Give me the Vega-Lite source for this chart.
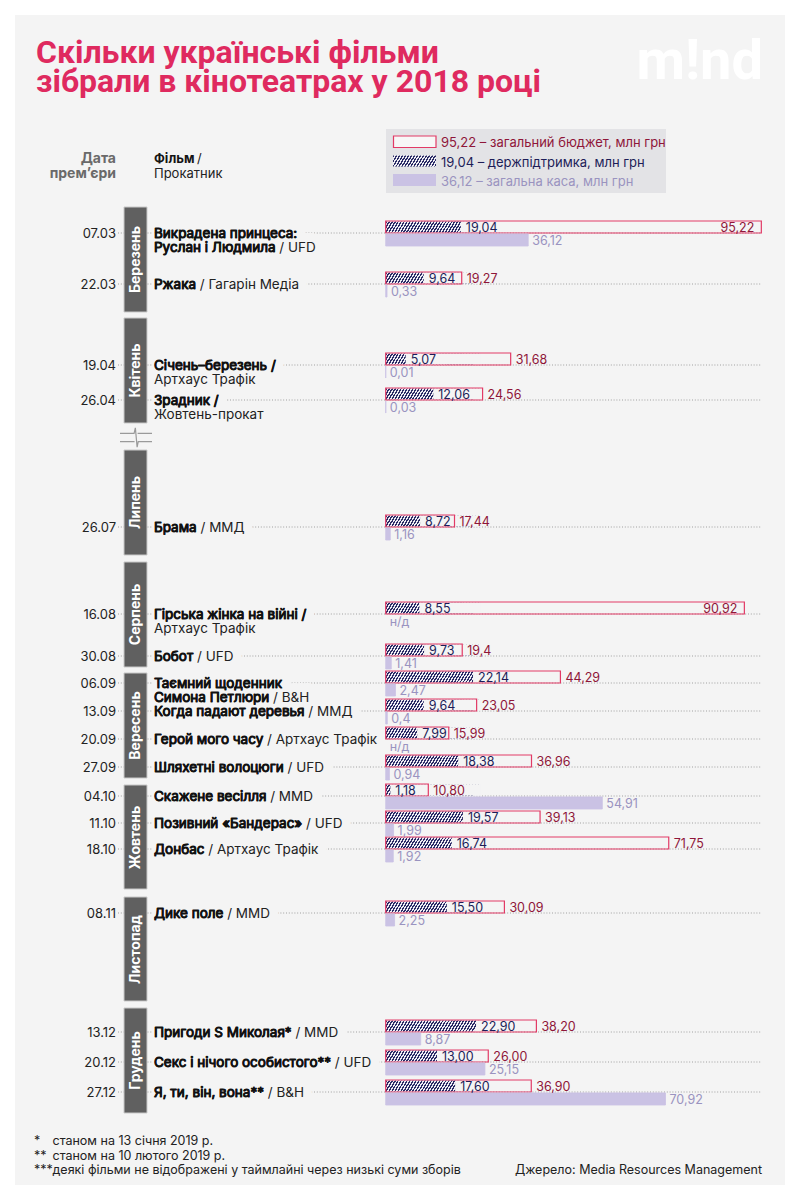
{
"$schema":"https://vega.github.io/schema/vega-lite/v6.json",
"width":800,"height":1200,
"autosize":{"type":"fit","contains":"padding"},
"padding":15,
"background":"#ffffff",
"view":{"fill":"#f4f4f4","stroke":null},
"datasets":{
"films":[
{"date":"2018-03-07","film":"Викрадена принцеса:\nРуслан і Людмила","dist":"/ UFD","budget":"95,22","support":"19,04","box":"36,12"},
{"date":"2018-03-22","film":"Ржака","dist":"/ Гагарін Медіа","budget":"19,27","support":"9,64","box":"0,33"},
{"date":"2018-04-19","film":"Січень–березень /","dist":"\nАртхаус Трафік","budget":"31,68","support":"5,07","box":"0,01"},
{"date":"2018-04-26","film":"Зрадник /","dist":"\nЖовтень-прокат","budget":"24,56","support":"12,06","box":"0,03"},
{"date":"2018-07-26","film":"Брама","dist":"/ ММД","budget":"17,44","support":"8,72","box":"1,16"},
{"date":"2018-08-16","film":"Гірська жінка на війні /","dist":"\nАртхаус Трафік","budget":"90,92","support":"8,55","box":"н/д"},
{"date":"2018-08-30","film":"Бобот","dist":"/ UFD","budget":"19,4","support":"9,73","box":"1,41"},
{"date":"2018-09-06","film":"Таємний щоденник\nСимона Петлюри","dist":"/ B&H","budget":"44,29","support":"22,14","box":"2,47"},
{"date":"2018-09-13","film":"Когда падают деревья","dist":"/ ММД","budget":"23,05","support":"9,64","box":"0,4"},
{"date":"2018-09-20","film":"Герой мого часу","dist":"/ Артхаус Трафік","budget":"15,99","support":"7,99","box":"н/д"},
{"date":"2018-09-27","film":"Шляхетні волоцюги","dist":"/ UFD","budget":"36,96","support":"18,38","box":"0,94"},
{"date":"2018-10-04","film":"Скажене весілля","dist":"/ MMD","budget":"10,80","support":"1,18","box":"54,91"},
{"date":"2018-10-11","film":"Позивний «Бандерас»","dist":"/ UFD","budget":"39,13","support":"19,57","box":"1,99"},
{"date":"2018-10-18","film":"Донбас","dist":"/ Артхаус Трафік","budget":"71,75","support":"16,74","box":"1,92"},
{"date":"2018-11-08","film":"Дике поле","dist":"/ MMD","budget":"30,09","support":"15,50","box":"2,25"},
{"date":"2018-12-13","film":"Пригоди S Миколая*","dist":"/ MMD","budget":"38,20","support":"22,90","box":"8,87"},
{"date":"2018-12-20","film":"Секс і нічого особистого**","dist":"/ UFD","budget":"26,00","support":"13,00","box":"25,15"},
{"date":"2018-12-27","film":"Я, ти, він, вона**","dist":"/ B&H","budget":"36,90","support":"17,60","box":"70,92"}
],
"months":[
{"month":"Березень","date":"2018-03-01","end":"2018-03-31"},
{"month":"Квітень","date":"2018-04-01","end":"2018-04-30"},
{"month":"Липень","date":"2018-07-01","end":"2018-07-31"},
{"month":"Серпень","date":"2018-08-01","end":"2018-08-31"},
{"month":"Вересень","date":"2018-09-01","end":"2018-09-30"},
{"month":"Жовтень","date":"2018-10-01","end":"2018-10-31"},
{"month":"Листопад","date":"2018-11-01","end":"2018-11-30"},
{"month":"Грудень","date":"2018-12-01","end":"2018-12-31"}
]
},
"resolve":{"scale":{"x":"independent","y":"independent"}},
"layer":[
{
"data":{"values":[{}]},
"layer":[
{"mark":{"type":"text","text":["Скільки українські фільми","зібрали в кінотеатрах у 2018 році"],"font":"Roboto","fontWeight":"bold","fontSize":32,"lineHeight":29,"color":"#df2a5f","align":"left","baseline":"alphabetic"},
"encoding":{"x":{"datum":36,"scale":{"domain":[15,785],"nice":false,"zero":false},"axis":null},"y":{"datum":63,"scale":{"domain":[15,1185],"reverse":true,"nice":false,"zero":false},"axis":null}}},
{"mark":{"type":"text","text":"m!nd","font":"Roboto","fontWeight":"bold","fontSize":56,"color":"#ffffff","align":"right","baseline":"alphabetic"},
"encoding":{"x":{"datum":763,"scale":{"domain":[15,785],"nice":false,"zero":false},"axis":null},"y":{"datum":79,"scale":{"domain":[15,1185],"reverse":true,"nice":false,"zero":false},"axis":null}}},
{"mark":{"type":"rect","fill":"#e3e3e6"},
"encoding":{"x":{"datum":386,"scale":{"domain":[15,785],"nice":false,"zero":false},"axis":null},"x2":{"datum":666},"y":{"datum":129,"scale":{"domain":[15,1185],"reverse":true,"nice":false,"zero":false},"axis":null},"y2":{"datum":193}}},
{"mark":{"type":"rect","fill":"#f7f7f7","stroke":"#e23a66","strokeWidth":1.2},
"encoding":{"x":{"datum":393.5,"scale":{"domain":[15,785],"nice":false,"zero":false},"axis":null},"x2":{"datum":436},"y":{"datum":136,"scale":{"domain":[15,1185],"reverse":true,"nice":false,"zero":false},"axis":null},"y2":{"datum":147.5}}},
{"mark":{"type":"rect","fill":{"gradient":"linear","x1":0,"y1":0,"x2":1,"y2":0.0697,"stops":[
{"offset":0,"color":"#2b2b66"},{"offset":0.015625,"color":"#2b2b66"},{"offset":0.015625,"color":"#eeeef4"},{"offset":0.03125,"color":"#eeeef4"},
{"offset":0.03125,"color":"#2b2b66"},{"offset":0.046875,"color":"#2b2b66"},{"offset":0.046875,"color":"#eeeef4"},{"offset":0.0625,"color":"#eeeef4"},
{"offset":0.0625,"color":"#2b2b66"},{"offset":0.078125,"color":"#2b2b66"},{"offset":0.078125,"color":"#eeeef4"},{"offset":0.09375,"color":"#eeeef4"},
{"offset":0.09375,"color":"#2b2b66"},{"offset":0.109375,"color":"#2b2b66"},{"offset":0.109375,"color":"#eeeef4"},{"offset":0.125,"color":"#eeeef4"},
{"offset":0.125,"color":"#2b2b66"},{"offset":0.140625,"color":"#2b2b66"},{"offset":0.140625,"color":"#eeeef4"},{"offset":0.15625,"color":"#eeeef4"},
{"offset":0.15625,"color":"#2b2b66"},{"offset":0.171875,"color":"#2b2b66"},{"offset":0.171875,"color":"#eeeef4"},{"offset":0.1875,"color":"#eeeef4"},
{"offset":0.1875,"color":"#2b2b66"},{"offset":0.203125,"color":"#2b2b66"},{"offset":0.203125,"color":"#eeeef4"},{"offset":0.21875,"color":"#eeeef4"},
{"offset":0.21875,"color":"#2b2b66"},{"offset":0.234375,"color":"#2b2b66"},{"offset":0.234375,"color":"#eeeef4"},{"offset":0.25,"color":"#eeeef4"},
{"offset":0.25,"color":"#2b2b66"},{"offset":0.265625,"color":"#2b2b66"},{"offset":0.265625,"color":"#eeeef4"},{"offset":0.28125,"color":"#eeeef4"},
{"offset":0.28125,"color":"#2b2b66"},{"offset":0.296875,"color":"#2b2b66"},{"offset":0.296875,"color":"#eeeef4"},{"offset":0.3125,"color":"#eeeef4"},
{"offset":0.3125,"color":"#2b2b66"},{"offset":0.328125,"color":"#2b2b66"},{"offset":0.328125,"color":"#eeeef4"},{"offset":0.34375,"color":"#eeeef4"},
{"offset":0.34375,"color":"#2b2b66"},{"offset":0.359375,"color":"#2b2b66"},{"offset":0.359375,"color":"#eeeef4"},{"offset":0.375,"color":"#eeeef4"},
{"offset":0.375,"color":"#2b2b66"},{"offset":0.390625,"color":"#2b2b66"},{"offset":0.390625,"color":"#eeeef4"},{"offset":0.40625,"color":"#eeeef4"},
{"offset":0.40625,"color":"#2b2b66"},{"offset":0.421875,"color":"#2b2b66"},{"offset":0.421875,"color":"#eeeef4"},{"offset":0.4375,"color":"#eeeef4"},
{"offset":0.4375,"color":"#2b2b66"},{"offset":0.453125,"color":"#2b2b66"},{"offset":0.453125,"color":"#eeeef4"},{"offset":0.46875,"color":"#eeeef4"},
{"offset":0.46875,"color":"#2b2b66"},{"offset":0.484375,"color":"#2b2b66"},{"offset":0.484375,"color":"#eeeef4"},{"offset":0.5,"color":"#eeeef4"},
{"offset":0.5,"color":"#2b2b66"},{"offset":0.515625,"color":"#2b2b66"},{"offset":0.515625,"color":"#eeeef4"},{"offset":0.53125,"color":"#eeeef4"},
{"offset":0.53125,"color":"#2b2b66"},{"offset":0.546875,"color":"#2b2b66"},{"offset":0.546875,"color":"#eeeef4"},{"offset":0.5625,"color":"#eeeef4"},
{"offset":0.5625,"color":"#2b2b66"},{"offset":0.578125,"color":"#2b2b66"},{"offset":0.578125,"color":"#eeeef4"},{"offset":0.59375,"color":"#eeeef4"},
{"offset":0.59375,"color":"#2b2b66"},{"offset":0.609375,"color":"#2b2b66"},{"offset":0.609375,"color":"#eeeef4"},{"offset":0.625,"color":"#eeeef4"},
{"offset":0.625,"color":"#2b2b66"},{"offset":0.640625,"color":"#2b2b66"},{"offset":0.640625,"color":"#eeeef4"},{"offset":0.65625,"color":"#eeeef4"},
{"offset":0.65625,"color":"#2b2b66"},{"offset":0.671875,"color":"#2b2b66"},{"offset":0.671875,"color":"#eeeef4"},{"offset":0.6875,"color":"#eeeef4"},
{"offset":0.6875,"color":"#2b2b66"},{"offset":0.703125,"color":"#2b2b66"},{"offset":0.703125,"color":"#eeeef4"},{"offset":0.71875,"color":"#eeeef4"},
{"offset":0.71875,"color":"#2b2b66"},{"offset":0.734375,"color":"#2b2b66"},{"offset":0.734375,"color":"#eeeef4"},{"offset":0.75,"color":"#eeeef4"},
{"offset":0.75,"color":"#2b2b66"},{"offset":0.765625,"color":"#2b2b66"},{"offset":0.765625,"color":"#eeeef4"},{"offset":0.78125,"color":"#eeeef4"},
{"offset":0.78125,"color":"#2b2b66"},{"offset":0.796875,"color":"#2b2b66"},{"offset":0.796875,"color":"#eeeef4"},{"offset":0.8125,"color":"#eeeef4"},
{"offset":0.8125,"color":"#2b2b66"},{"offset":0.828125,"color":"#2b2b66"},{"offset":0.828125,"color":"#eeeef4"},{"offset":0.84375,"color":"#eeeef4"},
{"offset":0.84375,"color":"#2b2b66"},{"offset":0.859375,"color":"#2b2b66"},{"offset":0.859375,"color":"#eeeef4"},{"offset":0.875,"color":"#eeeef4"},
{"offset":0.875,"color":"#2b2b66"},{"offset":0.890625,"color":"#2b2b66"},{"offset":0.890625,"color":"#eeeef4"},{"offset":0.90625,"color":"#eeeef4"},
{"offset":0.90625,"color":"#2b2b66"},{"offset":0.921875,"color":"#2b2b66"},{"offset":0.921875,"color":"#eeeef4"},{"offset":0.9375,"color":"#eeeef4"},
{"offset":0.9375,"color":"#2b2b66"},{"offset":0.953125,"color":"#2b2b66"},{"offset":0.953125,"color":"#eeeef4"},{"offset":0.96875,"color":"#eeeef4"},
{"offset":0.96875,"color":"#2b2b66"},{"offset":0.984375,"color":"#2b2b66"},{"offset":0.984375,"color":"#eeeef4"},{"offset":1,"color":"#eeeef4"}
]}},
"encoding":{"x":{"datum":393,"scale":{"domain":[15,785],"nice":false,"zero":false},"axis":null},"x2":{"datum":487.7},"y":{"datum":155.5,"scale":{"domain":[15,1185],"reverse":true,"nice":false,"zero":false},"axis":null},"y2":{"datum":166.5}}},
{"mark":{"type":"rect","fill":"#e3e3e6"},
"encoding":{"x":{"datum":436,"scale":{"domain":[15,785],"nice":false,"zero":false},"axis":null},"x2":{"datum":490},"y":{"datum":154,"scale":{"domain":[15,1185],"reverse":true,"nice":false,"zero":false},"axis":null},"y2":{"datum":168}}},
{"mark":{"type":"rect","fill":"#cac2e4"},
"encoding":{"x":{"datum":393,"scale":{"domain":[15,785],"nice":false,"zero":false},"axis":null},"x2":{"datum":436},"y":{"datum":174,"scale":{"domain":[15,1185],"reverse":true,"nice":false,"zero":false},"axis":null},"y2":{"datum":186}}},
{"mark":{"type":"text","text":"95,22 – загальний бюджет, млн грн","font":"Inter","fontSize":13,"color":"#8f1639","align":"left","baseline":"alphabetic"},
"encoding":{"x":{"datum":441,"scale":{"domain":[15,785],"nice":false,"zero":false},"axis":null},"y":{"datum":147.3,"scale":{"domain":[15,1185],"reverse":true,"nice":false,"zero":false},"axis":null}}},
{"mark":{"type":"text","text":"19,04 – держпідтримка, млн грн","font":"Inter","fontSize":13,"color":"#1d1d58","align":"left","baseline":"alphabetic"},
"encoding":{"x":{"datum":441,"scale":{"domain":[15,785],"nice":false,"zero":false},"axis":null},"y":{"datum":166.5,"scale":{"domain":[15,1185],"reverse":true,"nice":false,"zero":false},"axis":null}}},
{"mark":{"type":"text","text":"36,12 – загальна каса, млн грн","font":"Inter","fontSize":13,"color":"#9a93c0","align":"left","baseline":"alphabetic"},
"encoding":{"x":{"datum":441,"scale":{"domain":[15,785],"nice":false,"zero":false},"axis":null},"y":{"datum":185.5,"scale":{"domain":[15,1185],"reverse":true,"nice":false,"zero":false},"axis":null}}},
{"mark":{"type":"text","text":["Дата","прем’єри"],"font":"Inter","fontWeight":"bold","fontSize":14,"lineHeight":15,"color":"#6a6a6a","align":"right","baseline":"alphabetic"},
"encoding":{"x":{"datum":116,"scale":{"domain":[15,785],"nice":false,"zero":false},"axis":null},"y":{"datum":163,"scale":{"domain":[15,1185],"reverse":true,"nice":false,"zero":false},"axis":null}}},
{"mark":{"type":"text","text":"Фільм","font":"Inter","fontWeight":"bold","fontSize":13,"color":"#141414","align":"left","baseline":"alphabetic"},
"encoding":{"x":{"datum":154,"scale":{"domain":[15,785],"nice":false,"zero":false},"axis":null},"y":{"datum":163,"scale":{"domain":[15,1185],"reverse":true,"nice":false,"zero":false},"axis":null}}},
{"mark":{"type":"text","text":"/","font":"Inter","fontSize":13,"color":"#222222","align":"left","baseline":"alphabetic"},
"encoding":{"x":{"datum":197,"scale":{"domain":[15,785],"nice":false,"zero":false},"axis":null},"y":{"datum":163,"scale":{"domain":[15,1185],"reverse":true,"nice":false,"zero":false},"axis":null}}},
{"mark":{"type":"text","text":"Прокатник","font":"Inter","fontSize":13,"color":"#222222","align":"left","baseline":"alphabetic"},
"encoding":{"x":{"datum":154,"scale":{"domain":[15,785],"nice":false,"zero":false},"axis":null},"y":{"datum":178,"scale":{"domain":[15,1185],"reverse":true,"nice":false,"zero":false},"axis":null}}},
{"mark":{"type":"point","shape":"M-1,-0.26L-0.12,-0.26L-0.04,-0.6L0.07,0.6L0.14,0.26L1,0.26M-1,0.26L-0.09,0.26M0.1,-0.26L1,-0.26","size":1024,"filled":false,"stroke":"#9a9a9a","strokeWidth":1.2,"opacity":1},
"encoding":{"x":{"datum":136,"scale":{"domain":[15,785],"nice":false,"zero":false},"axis":null},"y":{"datum":437.5,"scale":{"domain":[15,1185],"reverse":true,"nice":false,"zero":false},"axis":null}}},
{"mark":{"type":"text","text":["*","**","***"],"font":"Inter","fontSize":12.5,"lineHeight":14.5,"color":"#222222","align":"left","baseline":"alphabetic"},
"encoding":{"x":{"datum":34,"scale":{"domain":[15,785],"nice":false,"zero":false},"axis":null},"y":{"datum":1145,"scale":{"domain":[15,1185],"reverse":true,"nice":false,"zero":false},"axis":null}}},
{"mark":{"type":"text","text":["станом на 13 січня 2019 р.","станом на 10 лютого 2019 р.","деякі фільми не відображені у таймлайні через низькі суми зборів"],"font":"Inter","fontSize":12.5,"lineHeight":14.5,"color":"#222222","align":"left","baseline":"alphabetic"},
"encoding":{"x":{"datum":52.5,"scale":{"domain":[15,785],"nice":false,"zero":false},"axis":null},"y":{"datum":1145,"scale":{"domain":[15,1185],"reverse":true,"nice":false,"zero":false},"axis":null}}},
{"mark":{"type":"text","text":"Джерело: Media Resources Management","font":"Inter","fontSize":12.5,"color":"#222222","align":"right","baseline":"alphabetic"},
"encoding":{"x":{"datum":762,"scale":{"domain":[15,785],"nice":false,"zero":false},"axis":null},"y":{"datum":1174,"scale":{"domain":[15,1185],"reverse":true,"nice":false,"zero":false},"axis":null}}}
]
},
{
"encoding":{"y":{"field":"day","type":"quantitative","axis":null,"scale":{"nice":false,"zero":false,"domain":[60,66,81,90,91,109,116,120,182,207,212,213,228,242,243,244,249,256,263,270,273,274,277,284,291,304,305,312,334,335,347,354,361,365],"range":[192,218,269,297,303,350,385,408,435,512,540,547,599,641,652,658,668,696,724,752,763,770,781,808,834,874,882,898,986,993,1017,1047,1077,1098]}}},
"layer":[
{
"data":{"name":"films"},
"transform":[
{"calculate":"(time(toDate(datum.date)) - utc(2018,0,1))/86400000 + 1","as":"day"},
{"calculate":"datum.film + (indexof(datum.dist, '\\n') == 0 ? '' : ' ') + datum.dist","as":"label"}
],
"layer":[
{"mark":{"type":"rule","stroke":"#a0a0a0","strokeWidth":1,"strokeDash":[1,1.8]},
"encoding":{"x":{"datum":118,"scale":{"domain":[15,785],"nice":false,"zero":false},"axis":null},"x2":{"datum":762}}},
{"mark":{"type":"text","font":"Inter","fontSize":13.5,"lineBreak":"\n","lineHeight":14,"align":"left","baseline":"alphabetic","dy":4.5,"color":"#f4f4f4","stroke":"#f4f4f4","strokeWidth":18,"strokeJoin":"round"},
"encoding":{"x":{"datum":154,"scale":{"domain":[15,785],"nice":false,"zero":false},"axis":null},"text":{"field":"label"}}}
]
},
{
"data":{"name":"months"},
"transform":[
{"calculate":"(time(toDate(datum.date)) - utc(2018,0,1))/86400000 + 1","as":"day"},
{"calculate":"(time(toDate(datum.end)) - utc(2018,0,1))/86400000 + 1","as":"endDay"}
],
"layer":[
{"mark":{"type":"rect","fill":"#606060","stroke":"#c9c9c9","strokeWidth":1},
"encoding":{"x":{"datum":124,"scale":{"domain":[15,785],"nice":false,"zero":false},"axis":null},"x2":{"datum":147},"y2":{"field":"endDay"}}},
{"mark":{"type":"text","font":"Inter","fontWeight":"bold","fontSize":14,"angle":270,"align":"center","baseline":"middle","yOffset":52.5,"color":"#ffffff"},
"encoding":{"x":{"datum":135.5,"scale":{"domain":[15,785],"nice":false,"zero":false},"axis":null},"text":{"field":"month"}}}
]
},
{
"data":{"name":"films"},
"transform":[
{"calculate":"(time(toDate(datum.date)) - utc(2018,0,1))/86400000 + 1","as":"day"},
{"calculate":"datum.film + (indexof(datum.dist, '\\n') == 0 ? '' : ' ') + datum.dist","as":"label"},
{"calculate":"utcFormat(toDate(datum.date), '%d.%m')","as":"dateLabel"}
],
"layer":[
{"mark":{"type":"rule","stroke":"#a0a0a0","strokeWidth":1,"strokeDash":[1,1.8]},
"encoding":{"x":{"datum":147.5,"scale":{"domain":[15,785],"nice":false,"zero":false},"axis":null},"x2":{"datum":153}}},
{"mark":{"type":"text","font":"Inter","fontSize":13,"align":"right","baseline":"alphabetic","dy":4.5,"color":"#222222"},
"encoding":{"x":{"datum":116,"scale":{"domain":[15,785],"nice":false,"zero":false},"axis":null},"text":{"field":"dateLabel"}}},
{"mark":{"type":"text","font":"Inter","fontSize":13.5,"lineBreak":"\n","lineHeight":14,"align":"left","baseline":"alphabetic","dy":4.5,"color":"#222222"},
"encoding":{"x":{"datum":154,"scale":{"domain":[15,785],"nice":false,"zero":false},"axis":null},"text":{"field":"label"}}},
{"mark":{"type":"text","font":"Inter","fontSize":13.5,"lineBreak":"\n","lineHeight":14,"align":"left","baseline":"alphabetic","dy":4.5,"color":"#111111","stroke":"#111111","strokeWidth":0.85,"strokeJoin":"round"},
"encoding":{"x":{"datum":154,"scale":{"domain":[15,785],"nice":false,"zero":false},"axis":null},"text":{"field":"film"}}}
]
}
]
},
{
"data":{"name":"films"},
"transform":[
{"calculate":"(time(toDate(datum.date)) - utc(2018,0,1))/86400000 + 1","as":"day"},
{"calculate":"toNumber(replace(datum.budget, ',', '.'))","as":"b"},
{"calculate":"toNumber(replace(datum.support, ',', '.'))","as":"s"},
{"calculate":"toNumber(replace(datum.box, ',', '.'))","as":"k"}
],
"encoding":{"y":{"field":"day","type":"quantitative","axis":null,"scale":{"nice":false,"zero":false,"domain":[60,66,81,90,91,109,116,120,182,207,212,213,228,242,243,244,249,256,263,270,273,274,277,284,291,304,305,312,334,335,347,354,361,365],"range":[192,218,269,297,303,350,385,408,435,512,540,547,599,641,652,658,668,696,724,752,763,770,781,808,834,874,882,898,986,993,1017,1047,1077,1098]}}},
"layer":[
{"mark":{"type":"rect","yOffset":-11.5,"y2Offset":-0.5,"fill":{"gradient":"linear","x1":0,"y1":0,"x2":1,"y2":0.0697,"stops":[
{"offset":0,"color":"#2b2b66"},{"offset":0.015625,"color":"#2b2b66"},{"offset":0.015625,"color":"#eeeef4"},{"offset":0.03125,"color":"#eeeef4"},
{"offset":0.03125,"color":"#2b2b66"},{"offset":0.046875,"color":"#2b2b66"},{"offset":0.046875,"color":"#eeeef4"},{"offset":0.0625,"color":"#eeeef4"},
{"offset":0.0625,"color":"#2b2b66"},{"offset":0.078125,"color":"#2b2b66"},{"offset":0.078125,"color":"#eeeef4"},{"offset":0.09375,"color":"#eeeef4"},
{"offset":0.09375,"color":"#2b2b66"},{"offset":0.109375,"color":"#2b2b66"},{"offset":0.109375,"color":"#eeeef4"},{"offset":0.125,"color":"#eeeef4"},
{"offset":0.125,"color":"#2b2b66"},{"offset":0.140625,"color":"#2b2b66"},{"offset":0.140625,"color":"#eeeef4"},{"offset":0.15625,"color":"#eeeef4"},
{"offset":0.15625,"color":"#2b2b66"},{"offset":0.171875,"color":"#2b2b66"},{"offset":0.171875,"color":"#eeeef4"},{"offset":0.1875,"color":"#eeeef4"},
{"offset":0.1875,"color":"#2b2b66"},{"offset":0.203125,"color":"#2b2b66"},{"offset":0.203125,"color":"#eeeef4"},{"offset":0.21875,"color":"#eeeef4"},
{"offset":0.21875,"color":"#2b2b66"},{"offset":0.234375,"color":"#2b2b66"},{"offset":0.234375,"color":"#eeeef4"},{"offset":0.25,"color":"#eeeef4"},
{"offset":0.25,"color":"#2b2b66"},{"offset":0.265625,"color":"#2b2b66"},{"offset":0.265625,"color":"#eeeef4"},{"offset":0.28125,"color":"#eeeef4"},
{"offset":0.28125,"color":"#2b2b66"},{"offset":0.296875,"color":"#2b2b66"},{"offset":0.296875,"color":"#eeeef4"},{"offset":0.3125,"color":"#eeeef4"},
{"offset":0.3125,"color":"#2b2b66"},{"offset":0.328125,"color":"#2b2b66"},{"offset":0.328125,"color":"#eeeef4"},{"offset":0.34375,"color":"#eeeef4"},
{"offset":0.34375,"color":"#2b2b66"},{"offset":0.359375,"color":"#2b2b66"},{"offset":0.359375,"color":"#eeeef4"},{"offset":0.375,"color":"#eeeef4"},
{"offset":0.375,"color":"#2b2b66"},{"offset":0.390625,"color":"#2b2b66"},{"offset":0.390625,"color":"#eeeef4"},{"offset":0.40625,"color":"#eeeef4"},
{"offset":0.40625,"color":"#2b2b66"},{"offset":0.421875,"color":"#2b2b66"},{"offset":0.421875,"color":"#eeeef4"},{"offset":0.4375,"color":"#eeeef4"},
{"offset":0.4375,"color":"#2b2b66"},{"offset":0.453125,"color":"#2b2b66"},{"offset":0.453125,"color":"#eeeef4"},{"offset":0.46875,"color":"#eeeef4"},
{"offset":0.46875,"color":"#2b2b66"},{"offset":0.484375,"color":"#2b2b66"},{"offset":0.484375,"color":"#eeeef4"},{"offset":0.5,"color":"#eeeef4"},
{"offset":0.5,"color":"#2b2b66"},{"offset":0.515625,"color":"#2b2b66"},{"offset":0.515625,"color":"#eeeef4"},{"offset":0.53125,"color":"#eeeef4"},
{"offset":0.53125,"color":"#2b2b66"},{"offset":0.546875,"color":"#2b2b66"},{"offset":0.546875,"color":"#eeeef4"},{"offset":0.5625,"color":"#eeeef4"},
{"offset":0.5625,"color":"#2b2b66"},{"offset":0.578125,"color":"#2b2b66"},{"offset":0.578125,"color":"#eeeef4"},{"offset":0.59375,"color":"#eeeef4"},
{"offset":0.59375,"color":"#2b2b66"},{"offset":0.609375,"color":"#2b2b66"},{"offset":0.609375,"color":"#eeeef4"},{"offset":0.625,"color":"#eeeef4"},
{"offset":0.625,"color":"#2b2b66"},{"offset":0.640625,"color":"#2b2b66"},{"offset":0.640625,"color":"#eeeef4"},{"offset":0.65625,"color":"#eeeef4"},
{"offset":0.65625,"color":"#2b2b66"},{"offset":0.671875,"color":"#2b2b66"},{"offset":0.671875,"color":"#eeeef4"},{"offset":0.6875,"color":"#eeeef4"},
{"offset":0.6875,"color":"#2b2b66"},{"offset":0.703125,"color":"#2b2b66"},{"offset":0.703125,"color":"#eeeef4"},{"offset":0.71875,"color":"#eeeef4"},
{"offset":0.71875,"color":"#2b2b66"},{"offset":0.734375,"color":"#2b2b66"},{"offset":0.734375,"color":"#eeeef4"},{"offset":0.75,"color":"#eeeef4"},
{"offset":0.75,"color":"#2b2b66"},{"offset":0.765625,"color":"#2b2b66"},{"offset":0.765625,"color":"#eeeef4"},{"offset":0.78125,"color":"#eeeef4"},
{"offset":0.78125,"color":"#2b2b66"},{"offset":0.796875,"color":"#2b2b66"},{"offset":0.796875,"color":"#eeeef4"},{"offset":0.8125,"color":"#eeeef4"},
{"offset":0.8125,"color":"#2b2b66"},{"offset":0.828125,"color":"#2b2b66"},{"offset":0.828125,"color":"#eeeef4"},{"offset":0.84375,"color":"#eeeef4"},
{"offset":0.84375,"color":"#2b2b66"},{"offset":0.859375,"color":"#2b2b66"},{"offset":0.859375,"color":"#eeeef4"},{"offset":0.875,"color":"#eeeef4"},
{"offset":0.875,"color":"#2b2b66"},{"offset":0.890625,"color":"#2b2b66"},{"offset":0.890625,"color":"#eeeef4"},{"offset":0.90625,"color":"#eeeef4"},
{"offset":0.90625,"color":"#2b2b66"},{"offset":0.921875,"color":"#2b2b66"},{"offset":0.921875,"color":"#eeeef4"},{"offset":0.9375,"color":"#eeeef4"},
{"offset":0.9375,"color":"#2b2b66"},{"offset":0.953125,"color":"#2b2b66"},{"offset":0.953125,"color":"#eeeef4"},{"offset":0.96875,"color":"#eeeef4"},
{"offset":0.96875,"color":"#2b2b66"},{"offset":0.984375,"color":"#2b2b66"},{"offset":0.984375,"color":"#eeeef4"},{"offset":1,"color":"#eeeef4"}
]}},
"encoding":{"x":{"datum":0,"scale":{"domain":[-93.97,101.22],"nice":false,"zero":false},"axis":null},"x2":{"datum":24},"y2":{"field":"day"}}},
{"mark":{"type":"rect","fill":"#f4f4f4","yOffset":-11.7,"y2Offset":-0.4},
"encoding":{"x":{"field":"s","type":"quantitative","scale":{"domain":[-93.97,101.22],"nice":false,"zero":false},"axis":null},"x2":{"datum":24},"y2":{"field":"day"}}},
{"mark":{"type":"rect","filled":false,"stroke":"#e23a66","strokeWidth":1.2,"yOffset":-12,"y2Offset":0},
"encoding":{"x":{"field":"b","type":"quantitative","scale":{"domain":[-93.97,101.22],"nice":false,"zero":false},"axis":null},"x2":{"datum":0},"y2":{"field":"day"}}},
{"transform":[{"filter":"isValid(datum.k)"}],
"mark":{"type":"rect","fill":"#cac2e4","stroke":"#cac2e4","strokeWidth":0.8,"yOffset":0.9,"y2Offset":13},
"encoding":{"x":{"field":"k","type":"quantitative","scale":{"domain":[-93.97,101.22],"nice":false,"zero":false},"axis":null},"x2":{"datum":0},"y2":{"field":"day"}}},
{"mark":{"type":"text","font":"Inter","fontSize":12.5,"color":"#1d1d58","align":"left","baseline":"alphabetic","dx":5,"dy":-1.5},
"encoding":{"x":{"field":"s","type":"quantitative","scale":{"domain":[-93.97,101.22],"nice":false,"zero":false},"axis":null},"text":{"field":"support"}}},
{"transform":[{"filter":"datum.b <= 80"}],
"mark":{"type":"text","font":"Inter","fontSize":12.5,"color":"#8f1639","align":"left","baseline":"alphabetic","dx":5,"dy":-1.5},
"encoding":{"x":{"field":"b","type":"quantitative","scale":{"domain":[-93.97,101.22],"nice":false,"zero":false},"axis":null},"text":{"field":"budget"}}},
{"transform":[{"filter":"datum.b > 80"}],
"mark":{"type":"text","font":"Inter","fontSize":12.5,"color":"#8f1639","align":"right","baseline":"alphabetic","dx":-7,"dy":-1.5},
"encoding":{"x":{"field":"b","type":"quantitative","scale":{"domain":[-93.97,101.22],"nice":false,"zero":false},"axis":null},"text":{"field":"budget"}}},
{"transform":[{"filter":"isValid(datum.k)"}],
"mark":{"type":"text","font":"Inter","fontSize":12.5,"color":"#9a93c0","align":"left","baseline":"alphabetic","dx":4,"dy":11.5},
"encoding":{"x":{"field":"k","type":"quantitative","scale":{"domain":[-93.97,101.22],"nice":false,"zero":false},"axis":null},"text":{"field":"box"}}},
{"transform":[{"filter":"!isValid(datum.k)"}],
"mark":{"type":"text","font":"Inter","fontSize":12.5,"color":"#9a93c0","align":"left","baseline":"alphabetic","dx":4,"dy":11.5},
"encoding":{"x":{"datum":0,"scale":{"domain":[-93.97,101.22],"nice":false,"zero":false},"axis":null},"text":{"field":"box"}}}
]
}
]
}
